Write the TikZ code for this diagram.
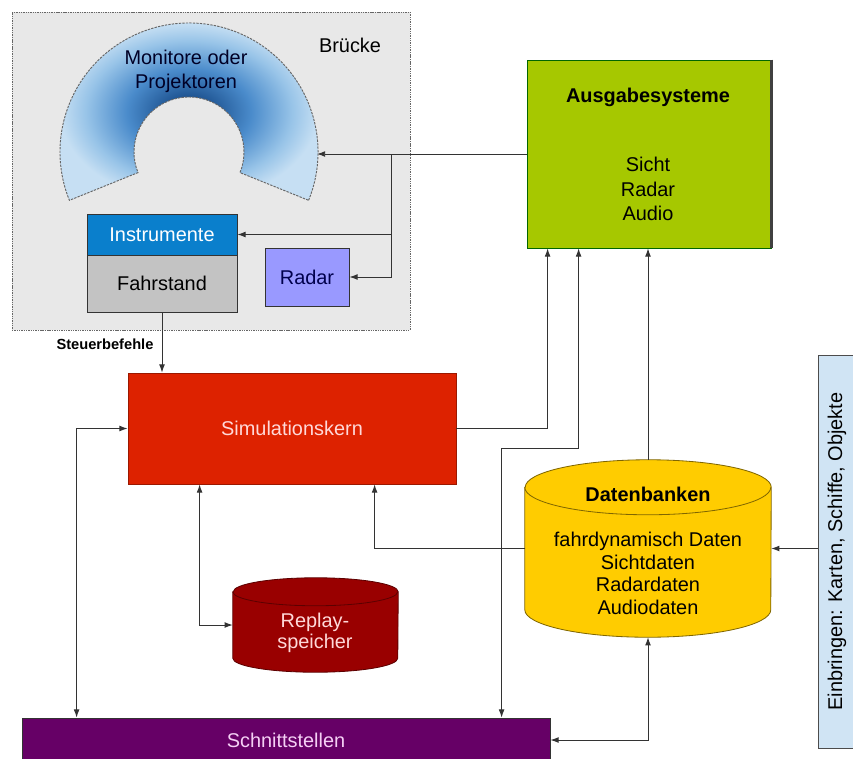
\documentclass[tikz,border=0pt]{standalone}
\usepackage{fontspec}
\setmainfont{Liberation Sans}
\usetikzlibrary{arrows.meta}
\usetikzlibrary{shapes}
\usetikzlibrary{positioning}
\usetikzlibrary{calc}

\definecolor{brueckegrau}{HTML}{E8E8E8}
\definecolor{instrblau}{HTML}{0A7FCC}
\definecolor{fahrgrau}{HTML}{C3C3C3}
\definecolor{radarlila}{HTML}{9999FF}
\definecolor{simrot}{HTML}{DD2200}
\definecolor{ausgabegruen}{HTML}{A6C800}
\definecolor{dbgelb}{HTML}{FFCC00}
\definecolor{replayrot}{HTML}{990000}
\definecolor{schnittlila}{HTML}{660066}
\definecolor{einbringblau}{HTML}{D0E4F4}
\definecolor{rosa}{HTML}{F5D0F5}
\definecolor{ringdunkel}{HTML}{1D5290}
\definecolor{ringmittel}{HTML}{4A8BCB}
\definecolor{ringhell}{HTML}{98C4E8}
\definecolor{ringblass}{HTML}{C6DFF3}

\pgfdeclareradialshading{ringschatten}{\pgfpoint{0bp}{0bp}}{color(0bp)=(ringdunkel); color(4bp)=(ringdunkel); color(12bp)=(ringmittel); color(20bp)=(ringhell); color(25bp)=(ringblass); color(50bp)=(ringblass)}

\newcommand{\pix}[1]{#1*0.03cm}

\begin{document}
\begin{tikzpicture}[x=0.03cm, y=-0.03cm, >={Latex[length=7pt,width=5pt]},
    every node/.style={font=\fontsize{17}{20.5}\selectfont},
    kasten/.style={rectangle, draw=black!80, line width=0.7pt, inner sep=0pt},
    tonne/.style={rectangle, inner sep=0pt},
    verbindung/.style={draw=black!80, line width=0.8pt}]
  \useasboundingbox (0,0) rectangle (853,758);
  \fill[white] (0,0) rectangle (853,758);

  % Bruecke
  \node[kasten, fill=brueckegrau, draw=black!60, dash pattern=on 1.2pt off 0.8pt,
        minimum width=\pix{398}, minimum height=\pix{318}] (bruecke) at (211,171) {};
  \node (brueckelabel) at (350,45) {Brücke};

  % Monitore oder Projektoren
  \begin{scope}
    \clip ([shift={(189,152)}]-22:3.87cm) arc[start angle=-22, end angle=202, radius=3.87cm]
      -- ([shift={(189,152)}]202:1.65cm) arc[start angle=202, end angle=-22, radius=1.65cm] -- cycle;
    \shade[shading=ringschatten] (60,23) rectangle (318,201);
  \end{scope}
  \draw[black!60, dash pattern=on 2pt off 1pt, line width=0.8pt]
    ([shift={(189,152)}]-22:3.87cm) arc[start angle=-22, end angle=202, radius=3.87cm]
    -- ([shift={(189,152)}]202:1.65cm) arc[start angle=202, end angle=-22, radius=1.65cm] -- cycle;
  \node[align=center, text=black!85!blue] (monitore) at (186,71) {Monitore oder\\Projektoren};
  \coordinate (ringein) at (317,154);

  \node[kasten, fill=instrblau, text=white, minimum width=\pix{150}, minimum height=\pix{41}] (instr) at (162,234.5) {Instrumente};
  \node[kasten, fill=fahrgrau, minimum width=\pix{150}, minimum height=\pix{57}] (fahr) at (162,283.5) {Fahrstand};
  \node[kasten, fill=radarlila, text=black!70!blue, minimum width=\pix{84}, minimum height=\pix{58}] (radar) at (307,277) {Radar};
  \node[font=\fontsize{12.5}{14}\selectfont\bfseries] (steuer) at (105,344) {Steuerbefehle};

  % Kern und Systeme
  \node[kasten, fill=simrot, draw=simrot!70!black, text=white!85!red, minimum width=\pix{328}, minimum height=\pix{111}] (sim) at (292,428.5) {Simulationskern};
  \node[kasten, fill=ausgabegruen, draw=black!60!green, minimum width=\pix{244}, minimum height=\pix{188}] (ausgabe) at (649,154) {};
  \draw[line width=2pt, black!75] (ausgabe.north east) -- (ausgabe.south east);
  \node[font=\fontsize{17}{20.5}\selectfont\bfseries] (ausgabetitel) at (648,97) {Ausgabesysteme};
  \node[align=center, font=\fontsize{17}{21}\selectfont] (ausgabeliste) at (648,189) {Sicht\\Radar\\Audio};

  % Datenbanken (Tonne)
  \node[tonne, minimum width=\pix{246}, minimum height=\pix{177}] (db) at (648,548.5) {};
  \draw[fill=dbgelb, draw=black!50!dbgelb, line width=0.7pt]
    ($(db.north west)+(0,27.5)$) -- ($(db.south west)+(0,-27.5)$)
    arc[start angle=180, end angle=360, x radius=3.69cm, y radius=0.825cm]
    -- ($(db.north east)+(0,27.5)$)
    arc[start angle=0, end angle=180, x radius=3.69cm, y radius=0.825cm] -- cycle;
  \draw[draw=black!50!dbgelb, line width=0.7pt]
    ($(db.north west)+(0,27.5)$) arc[start angle=180, end angle=360, x radius=3.69cm, y radius=0.825cm];
  \node[font=\fontsize{17}{20.5}\selectfont\bfseries] (dbtitel) at (648,494) {Datenbanken};
  \node[align=center, font=\fontsize{17}{19.2}\selectfont] (dbliste) at (648,573.5) {fahrdynamisch Daten\\Sichtdaten\\Radardaten\\Audiodaten};

  % Replayspeicher (Tonne)
  \node[tonne, minimum width=\pix{165}, minimum height=\pix{94}] (replay) at (315.5,625) {};
  \draw[fill=replayrot, draw=replayrot!60!black, line width=0.7pt]
    ($(replay.north west)+(0,14)$) -- ($(replay.south west)+(0,-14)$)
    arc[start angle=180, end angle=360, x radius=2.475cm, y radius=0.42cm]
    -- ($(replay.north east)+(0,14)$)
    arc[start angle=0, end angle=180, x radius=2.475cm, y radius=0.42cm] -- cycle;
  \draw[draw=replayrot!60!black, line width=0.7pt]
    ($(replay.north west)+(0,14)$) arc[start angle=180, end angle=360, x radius=2.475cm, y radius=0.42cm];
  \node[align=center, text=white!85!red, font=\fontsize{17}{18}\selectfont] (replaytext) at (315,632.5) {Replay-\\speicher};

  \node[kasten, fill=schnittlila, text=rosa, minimum width=\pix{528}, minimum height=\pix{44}] (schnitt) at (286,740) {Schnittstellen};
  \node[kasten, fill=einbringblau, draw=black!70, rotate=90, minimum width=\pix{393}, minimum height=\pix{38}] (einbringen) at (837,551.5) {Einbringen: Karten, Schiffe, Objekte};

  % Verbindungen
  \coordinate (abzweig) at (391,154);
  \draw[verbindung, ->] (ausgabe.west) -- (ringein);
  \draw[verbindung, ->] (abzweig) |- (instr.east);
  \draw[verbindung, ->] (abzweig) |- (radar.east);
  \draw[verbindung, ->] (fahr.south) -- (fahr.south |- sim.north);
  \draw[verbindung, <->] (sim.west) -| ($(schnitt.north west)+(55,0)$);
  \draw[verbindung, <->] ($(sim.south west)+(72,0)$) |- (replay.west);
  \draw[verbindung, ->] (db.west) -| ($(sim.south west)+(247,0)$);
  \draw[verbindung, ->] (sim.east) -| ($(ausgabe.south west)+(21,0)$);
  \draw[verbindung, <->] ($(ausgabe.south west)+(52,0)$) -- ++(0,200) -| ($(schnitt.north west)+(480,0)$);
  \draw[verbindung, ->] (db.north) -- (db.north |- ausgabe.south);
  \draw[verbindung, <->] (schnitt.east) -| (db.south);
  \draw[verbindung, ->] (db.east -| einbringen.north) -- (db.east);
\end{tikzpicture}
\end{document}
